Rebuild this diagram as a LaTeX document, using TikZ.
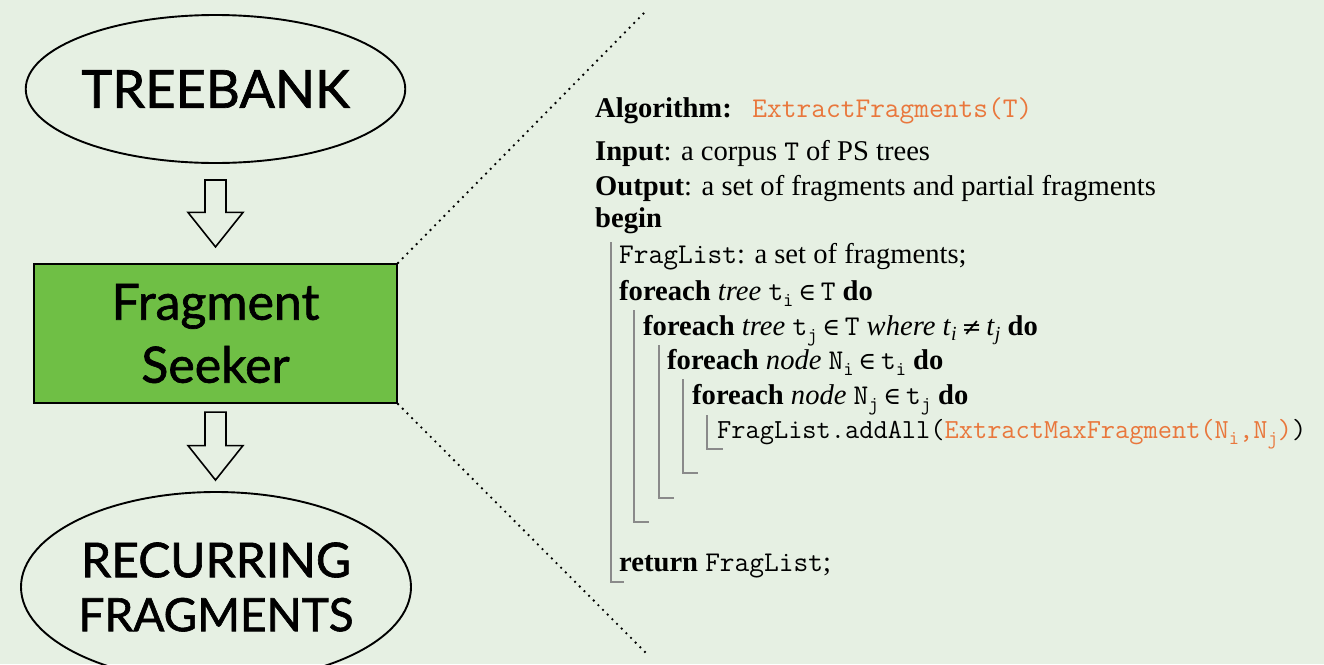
\documentclass[tikz,border=0pt]{standalone}
\usepackage{fontspec}
\setmainfont{Liberation Serif}
\newfontfamily\gill{Lato}[BoldFont={Lato}, BoldFeatures={FakeBold=1.3}]
\newfontfamily\symf{DejaVu Serif}
\usetikzlibrary{calc,shapes.geometric}
\definecolor{bgc}{HTML}{E6F0E3}
\definecolor{fsgreen}{HTML}{6FBF45}
\definecolor{algo}{HTML}{E9773C}
\definecolor{barc}{HTML}{8A8A8A}
\newcommand{\tts}[2]{\texttt{#1}\raisebox{-0.24em}{\fontsize{20}{20}\selectfont\ttfamily #2}}
\newcommand{\its}[2]{\textit{#1}\raisebox{-0.2em}{\fontsize{20}{20}\selectfont\itshape #2}}
\newcommand{\elem}{\,{\symf\fontsize{24}{28}\selectfont ∈}\,}
\newcommand{\nequ}{\,{\symf\fontsize{24}{28}\selectfont ≠}\,}
\begin{document}
\begin{tikzpicture}[x=1pt,y=-1pt,
  ell/.style={ellipse, draw=black, line width=1.9pt, inner sep=0pt, align=center},
  fsbox/.style={rectangle, draw=black, fill=fsgreen, line width=2.2pt, inner sep=0pt, align=center,
    font=\gill\bfseries\fontsize{50}{63}\selectfont},
  blk/.style={draw=black, fill=bgc, line width=1.6pt, line join=miter},
  dotline/.style={line width=2.6pt, line cap=round, dash pattern=on 0pt off 6.6pt},
  alg/.style={anchor=base west, inner sep=0pt, font=\fontsize{28.6}{34}\selectfont},
  barline/.style={draw=barc, line width=1.1pt}]
\useasboundingbox (0,0) rectangle (1324,664);
\fill[bgc] (0,0) rectangle (1324,664);
\clip (0,0) rectangle (1324,664);

% left flow
\node[ell, minimum width=369, minimum height=148, font=\gill\bfseries\fontsize{52.5}{60}\selectfont] (tb) at (215.5,89) {TREEBANK};
\node[fsbox, minimum width=363, minimum height=139] (fs) at (215.5,333.5) {Fragment\\Seeker};
\node[ell, minimum width=390, minimum height=190, font=\gill\bfseries\fontsize{48}{54}\selectfont] (rf) at (216,587) {RECURRING\\{\fontsize{46}{54}\selectfont FRAGMENTS}};

\coordinate (a1s) at ($(tb.south)+(0,16)$);
\coordinate (a1e) at ($(fs.north)+(0,-16)$);
\coordinate (a2s) at ($(fs.south)+(0,8)$);
\coordinate (a2e) at ($(rf.north)+(0,-11)$);
\draw[blk] let \p1=(a1s), \p2=(a1e) in
  (\x1-10.5pt,\y1) -- (\x1-10.5pt,\y2+34.5pt) -- (\x1-27.5pt,\y2+34.5pt) -- (\x1,\y2)
  -- (\x1+27.5pt,\y2+34.5pt) -- (\x1+10.5pt,\y2+34.5pt) -- (\x1+10.5pt,\y1) -- cycle;
\draw[blk] let \p1=(a2s), \p2=(a2e) in
  (\x1-10.5pt,\y1) -- (\x1-10.5pt,\y2+34.5pt) -- (\x1-27.5pt,\y2+34.5pt) -- (\x1,\y2)
  -- (\x1+27.5pt,\y2+34.5pt) -- (\x1+10.5pt,\y2+34.5pt) -- (\x1+10.5pt,\y1) -- cycle;

% dotted zoom lines
\coordinate (d1) at (645,12);
\coordinate (d2) at (648,655);
\draw[dotline] (fs.north east) -- (d1);
\draw[dotline] (fs.south east) -- (d2);

% algorithm
\node[alg] (l0) at (595,117) {\textbf{Algorithm:}\hspace{0.72em}\textcolor{algo}{\ttfamily ExtractFragments(T)}};
\node[alg] (l1) at (595,160) {\textbf{Input}: a corpus \texttt{T} of PS trees};
\node[alg] (l2) at (595,195) {\textbf{Output}: a set of fragments and partial fragments};
\node[alg] (l3) at (595,227) {\textbf{begin}};
\node[alg] (l4) at (619,263) {\texttt{FragList}: a set of fragments;};
\node[alg] (l5) at (619,300) {\textbf{foreach} \textit{tree} \tts{t}{i}\elem\texttt{T} \textbf{do}};
\node[alg] (l6) at (643,335) {\textbf{foreach} \textit{tree} \tts{t}{j}\elem\texttt{T} \textit{where} \its{t}{i}\nequ\its{t}{j} \textbf{do}};
\node[alg] (l7) at (667,369) {\textbf{foreach} \textit{node} \tts{N}{i}\elem\tts{t}{i} \textbf{do}};
\node[alg] (l8) at (692,404) {\textbf{foreach} \textit{node} \tts{N}{j}\elem\tts{t}{j} \textbf{do}};
\node[alg, font=\fontsize{27.6}{34}\selectfont] (l9) at (717,438) {\texttt{FragList.addAll(}\textcolor{algo}{\texttt{ExtractMaxFragment(}\tts{N}{i}\texttt{,}\tts{N}{j}\texttt{)}}\texttt{)}};
\node[alg] (l10) at (619,571) {\textbf{return} \texttt{FragList};};

% block bars
\draw[barline] (611,242) -- (611,582) -- (624,582);
\draw[barline] (634,310) -- (634,522) -- (649,522);
\draw[barline] (659,345) -- (659,498) -- (674,498);
\draw[barline] (683,379) -- (683,473) -- (698,473);
\draw[barline] (707,415) -- (707,449) -- (723,449);
\end{tikzpicture}
\end{document}
